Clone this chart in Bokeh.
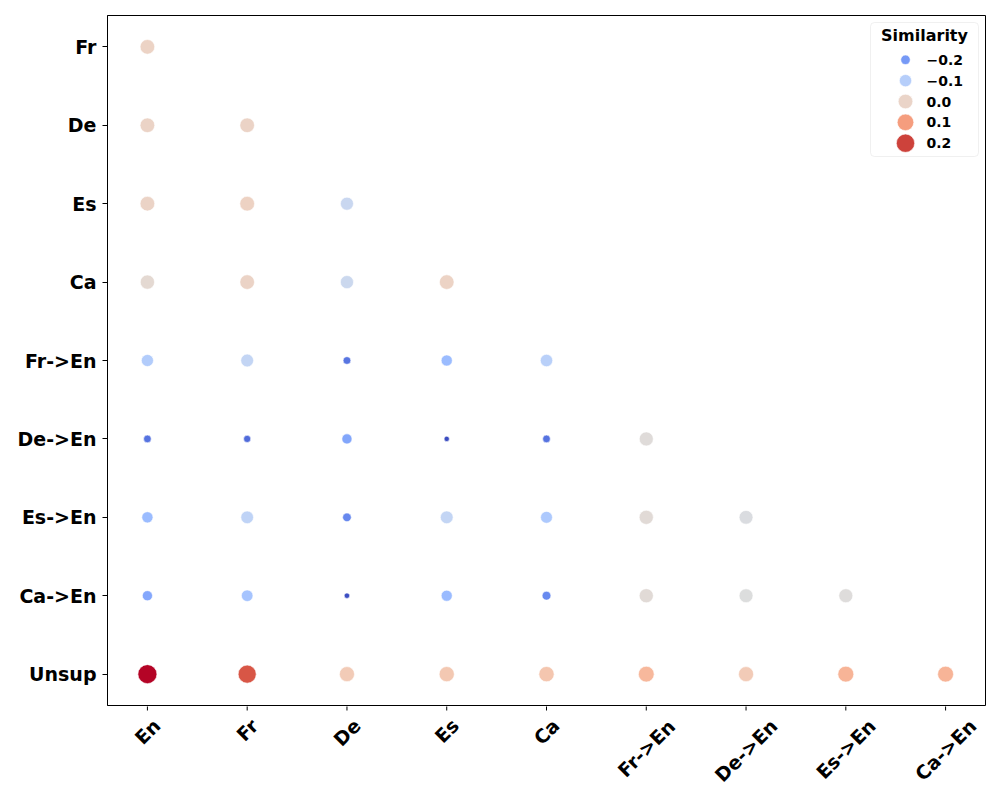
import numpy as np
from bokeh.plotting import figure
from bokeh.layouts import column
from bokeh.models import (ColumnDataSource, LinearColorMapper, FixedTicker, Range1d,
                          Label, BoxAnnotation)
from bokeh.core.properties import value
from bokeh.transform import transform
from bokeh.embed import file_html
from bokeh.resources import INLINE

# ---------------- data ----------------
rows = ["Fr", "De", "Es", "Ca", "Fr->En", "De->En", "Es->En", "Ca->En", "Unsup"]
cols = ["En", "Fr", "De", "Es", "Ca", "Fr->En", "De->En", "Es->En", "Ca->En"]

sim_fr = [0.004]
sim_de = [0.002, 0.003]
sim_es = [0.002, 0.006, -0.068]
sim_ca = [-0.015, 0.003, -0.065, 0.004]
sim_fr_en = [-0.108, -0.080, -0.248, -0.143, -0.097]
sim_de_en = [-0.250, -0.262, -0.180, -0.300, -0.250, -0.025]
sim_es_en = [-0.143, -0.085, -0.224, -0.080, -0.116, -0.020, -0.035]
sim_ca_en = [-0.178, -0.127, -0.297, -0.146, -0.220, -0.020, -0.032, -0.027]
sim_unsup = [0.240, 0.183, 0.024, 0.030, 0.035, 0.059, 0.024, 0.067, 0.065]

sim_rows = [sim_fr, sim_de, sim_es, sim_ca, sim_fr_en, sim_de_en, sim_es_en, sim_ca_en, sim_unsup]

legend_values = [-0.2, -0.1, 0.0, 0.1, 0.2]
legend_labels = ["\u22120.2", "\u22120.1", "0.0", "0.1", "0.2"]

# ---------------- coolwarm palette ----------------
_cw = np.array([
    (0.2298057, 0.298717966, 0.753683153), (0.26623388, 0.353094838, 0.801466763),
    (0.30386891, 0.406535296, 0.84495867), (0.342804478, 0.458757618, 0.883725899),
    (0.38301334, 0.50941904, 0.917387822), (0.424369608, 0.558148092, 0.945619588),
    (0.46666708, 0.604562568, 0.968154911), (0.509635204, 0.648280772, 0.98478814),
    (0.552953156, 0.688929332, 0.995375608), (0.596262162, 0.726149107, 0.999836203),
    (0.639176211, 0.759599947, 0.998151185), (0.681291281, 0.788964712, 0.990363227),
    (0.722193294, 0.813952739, 0.976574709), (0.761464949, 0.834302879, 0.956945269),
    (0.798691636, 0.849786142, 0.931688648), (0.833466556, 0.860207984, 0.901068838),
    (0.865395197, 0.86541021, 0.865395561), (0.897787179, 0.848937047, 0.820880546),
    (0.924127593, 0.827384882, 0.774508472), (0.944468518, 0.800927443, 0.726736146),
    (0.958852946, 0.769767752, 0.678007945), (0.96732803, 0.734132809, 0.628751763),
    (0.969954137, 0.694266682, 0.579375448), (0.966811177, 0.650421156, 0.530263762),
    (0.958003065, 0.602842431, 0.481775914), (0.943660866, 0.551750968, 0.434243684),
    (0.923944917, 0.49730856, 0.387970225), (0.89904617, 0.439559467, 0.343229596),
    (0.869186849, 0.378313092, 0.300267182), (0.834620542, 0.312874446, 0.259301199),
    (0.795631745, 0.24128379, 0.220525627), (0.752534934, 0.157246067, 0.184115123),
    (0.705673158, 0.01555616, 0.150232812),
])
_t = np.linspace(0, 1, len(_cw))
palette = []
for t in np.linspace(0, 1, 256):
    r, g, b = (np.interp(t, _t, _cw[:, k]) for k in range(3))
    palette.append("#%02x%02x%02x" % (int(round(r * 255)), int(round(g * 255)), int(round(b * 255))))

# ---------------- build points ----------------
xs, ys, vals = [], [], []
n_rows = len(rows)
for r, row_vals in enumerate(sim_rows):
    for c, v in enumerate(row_vals):
        xs.append(c)
        ys.append(n_rows - 1 - r)
        vals.append(v)

vmin, vmax = min(vals), max(vals)
AREA_MIN, AREA_MAX = 28.0, 361.0


def size_of(v):
    a = AREA_MIN + (v - vmin) / (vmax - vmin) * (AREA_MAX - AREA_MIN)
    return float(np.sqrt(max(a, 1.0)))


src = ColumnDataSource(dict(x=xs, y=ys, sim=vals, size=[size_of(v) for v in vals]))
mapper = LinearColorMapper(palette=palette, low=vmin, high=vmax)

# ---------------- main figure ----------------
W = 992
BL, BR, BT = 107, 7, 15
FH = 690
H1 = BT + FH + 1
H2 = 86
X0, X1 = -0.4, 8.4
Y0, Y1 = -0.4, 8.4
FW = W - BL - BR
PPX, PPY = FW / (X1 - X0), FH / (Y1 - Y0)


def fx(px):  # px from frame left -> data x
    return X0 + px / PPX


def fy(py):  # px from frame top -> data y
    return Y1 - py / PPY


x_range = Range1d(X0, X1)
p = figure(width=W, height=H1, x_range=x_range, y_range=Range1d(Y0, Y1),
           output_backend="svg", toolbar_location=None, x_axis_location=None,
           min_border_left=BL, min_border_right=BR, min_border_top=BT, min_border_bottom=1)
p.background_fill_color = "white"
p.border_fill_color = "white"
p.grid.visible = False
p.outline_line_color = "black"
p.outline_line_width = 1
p.outline_line_alpha = 1.0

ax = p.yaxis[0]
ax.axis_line_color = "black"
ax.major_tick_in = 0
ax.major_tick_out = 5
ax.major_tick_line_color = "black"
ax.minor_tick_line_color = None
ax.major_label_text_font = "DejaVu Sans"
ax.major_label_text_font_style = "bold"
ax.major_label_text_font_size = "19px"
ax.major_label_text_color = "black"
ax.ticker = FixedTicker(ticks=list(range(n_rows)))
ax.major_label_overrides = {n_rows - 1 - i: name for i, name in enumerate(rows)}
ax.major_label_standoff = 6

p.scatter("x", "y", size="size", source=src, fill_color=transform("sim", mapper),
          line_color="white", line_width=0.6, fill_alpha=1.0)

# ---------------- legend (manual, sized markers) ----------------
p.add_layout(BoxAnnotation(left=fx(763), right=fx(871), top=fy(7), bottom=fy(141),
                           fill_color="white", fill_alpha=0.8, line_color="#cccccc",
                           line_width=1, border_radius=4, level="underlay"))
p.add_layout(Label(x=fx(817), y=fy(20), text="Similarity", text_align="center",
                   text_baseline="middle", text_font="DejaVu Sans", text_font_style="bold",
                   text_font_size="16px", text_color="black"))
leg_y = [fy(44.3 + k * 20.85) for k in range(len(legend_values))]
leg_src = ColumnDataSource(dict(x=[fx(798)] * len(legend_values), y=leg_y, sim=legend_values,
                                size=[size_of(v) for v in legend_values]))
p.scatter("x", "y", size="size", source=leg_src, fill_color=transform("sim", mapper),
          line_color="white", line_width=0.6, level="overlay")
for k, lbl in enumerate(legend_labels):
    p.add_layout(Label(x=fx(819), y=leg_y[k], text=lbl, text_align="left",
                       text_baseline="middle", text_font="DejaVu Sans", text_font_style="bold",
                       text_font_size="14px", text_color="black"))

# ---------------- x tick strip (ticks + rotated, centred labels) ----------------
p2 = figure(width=W, height=H2, x_range=x_range, y_range=Range1d(0, H2),
            output_backend="svg", toolbar_location=None,
            x_axis_location=None, y_axis_location=None,
            min_border_left=BL, min_border_right=BR, min_border_top=0, min_border_bottom=0)
p2.grid.visible = False
p2.outline_line_color = None
p2.background_fill_color = "white"
p2.border_fill_color = "white"

tick_x = list(range(len(cols)))
p2.segment(x0=tick_x, y0=[H2 + 1] * len(cols), x1=tick_x, y1=[H2 - 4] * len(cols),
           line_color="black", line_width=1)

cw = {"E": .683, "n": .712, "F": .683, "r": .493, "D": .830, "e": .678, "s": .595,
      "C": .734, "a": .675, "-": .415, ">": .838}
FS = 19.4
lab_y = []
for name in cols:
    w = sum(cw.get(ch, 0.65) for ch in name) * FS
    centre_from_top = 26 + (w - 27) * 0.3536 - 1   # px below the frame bottom
    lab_y.append(H2 - centre_from_top)
p2.text(x=tick_x, y=lab_y, text=cols, angle=np.pi / 4, text_align="center",
        text_baseline="middle", text_font=value("DejaVu Sans"), text_font_style="bold",
        text_font_size="19px", text_color="black")

layout = column(p, p2, spacing=0)
open("out.html", "w").write(file_html(layout, INLINE))
